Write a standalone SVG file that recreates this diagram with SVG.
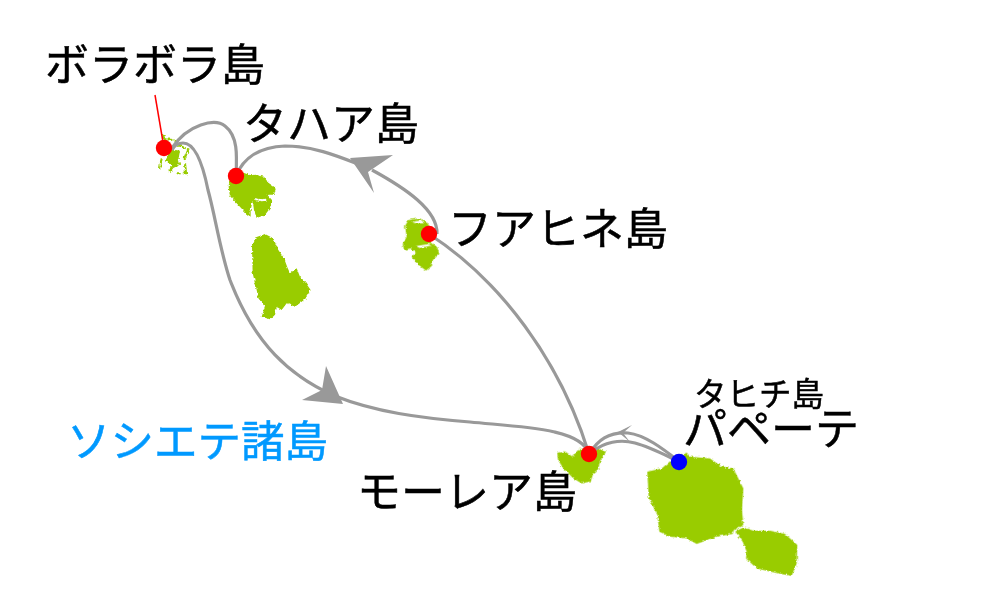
<svg xmlns="http://www.w3.org/2000/svg" width="1000" height="615" viewBox="0 0 1000 615">
<defs>
<filter id="rough" x="-10%" y="-10%" width="120%" height="120%">
<feTurbulence type="fractalNoise" baseFrequency="0.35" numOctaves="2" seed="4"/>
<feDisplacementMap in="SourceGraphic" scale="3.5" xChannelSelector="R" yChannelSelector="G"/>
</filter>
</defs>
<style>
text{font-family:"Noto Sans CJK JP","Noto Sans",sans-serif;font-size:44px;fill:#000;stroke:#000;stroke-width:.5}
.land{fill:#99cc00;stroke:none}
.route{fill:none;stroke:#999;stroke-width:3.2}
.head{fill:#999;stroke:none}
.stop{fill:#f00}
</style>
<rect width="1000" height="615" fill="#fff"/>
<g id="islands" filter="url(#rough)">
<g id="island-borabora" transform="translate(130 90) scale(.3333)">
<path class="land" d="M112 192L125 178L150 182L146 205L150 224L130 234L118 250L115 238L128 226L108 214Z"/>
<path fill="none" stroke="#99cc00" stroke-width="6" stroke-dasharray="40 6" d="M98 135L105 148L132 150L150 168L175 178L164 205L168 250L140 250"/>
<path fill="none" stroke="#99cc00" stroke-width="6" d="M95 205L90 235"/>
</g>
<g id="island-tahaa" transform="translate(130 90) scale(.3333)">
<path class="land" d="M296 290L300 265L340 248L362 256L378 254L402 260L415 278L438 294L432 314L412 314L428 332L420 355L405 375L380 384L372 360L368 332L362 360L362 380L350 372L322 342L300 318Z"/>
<path fill="#fff" d="M372 324L395 328L408 326L410 332L395 334L374 330Z"/>
</g>
<g id="island-raiatea" transform="translate(130 90) scale(.3333)">
<path class="land" d="M366 470L378 442L405 432L430 445L445 480L462 505L472 532L480 550L500 535L510 560L525 575L542 600L525 628L495 650L470 640L455 660L440 650L435 675L420 688L395 680L405 650L385 625L378 590L368 550Z"/>
</g>
<g id="island-huahine" transform="translate(340 140) scale(.3333)">
<path class="land" d="M195 258L205 240L238 235L258 243L268 258L262 280L272 305L292 322L298 342L280 358L275 378L258 392L232 372L215 350L228 338L212 325L192 330L188 312L200 290Z"/>
<path fill="#fff" d="M216 246L245 240L252 250L228 250Z"/>
<path fill="#fff" d="M228 318L265 312L275 316L240 324Z"/>
</g>
<g id="island-moorea" transform="translate(530 410) scale(.3333)">
<path class="land" d="M82 128L105 124L128 140L145 118L195 110L228 126L212 150L204 178L190 190L182 214L155 220L130 205L100 175L84 150Z"/>
</g>
<g id="island-tahiti" transform="translate(530 410) scale(.3333)">
<path class="land" d="M352 185L395 175L425 150L470 128L480 140L540 145L575 170L610 175L640 235L636 300L640 345L612 360L608 372L560 380L500 402L470 385L420 380L388 365L382 315L356 262Z"/>
<path class="land" d="M616 364L640 352L670 362L720 362L765 372L802 405L800 460L785 498L745 490L680 475L648 445L650 425L638 395Z"/>
</g>
</g>
<g id="connectors">
<path fill="none" stroke="#f00" stroke-width="1.5" d="M155 95L164 148"/>
<path class="route" d="M172 148C188 124 215 118 225 126C238 136 237 155 236 176"/>
<path class="route" d="M236 176C244 156 262 147 285 146C312 146 335 155 358 164"/>
<path class="route" d="M372 170C405 188 438 210 437 234"/>
<path class="route" d="M429 234C500 280 560 360 589 454"/>
<path class="route" d="M589 454C582 428 520 427 470 422C420 418 375 412 335 396C290 376 255 345 230 280C220 250 215 215 208 190C203 165 195 143 183 143C178 143 174 146 172 150"/>
<path class="route" d="M589 454C598 440 608 432 628 433C645 435 662 448 680 462"/>
<path class="route" d="M592 452C604 442 620 439 635 443C650 447 665 455 680 462"/>
<path class="head" d="M393 155L350 158L374 193L368 172Z"/>
<path class="head" d="M326 366L343 404L302 400L322 390Z"/>
<path class="head" d="M632 425L618 432L630 442L623 433Z"/>
</g>
<g id="stops">
<circle id="stop-borabora" class="stop" cx="164" cy="148" r="8.2"/>
<circle id="stop-tahaa" class="stop" cx="236" cy="176" r="8.2"/>
<circle id="stop-huahine" class="stop" cx="429" cy="234" r="8.2"/>
<circle id="stop-moorea" class="stop" cx="589" cy="454" r="8.2"/>
<circle id="stop-papeete" cx="679" cy="462" r="8.2" fill="#00f"/>
</g>
<g id="labels">
<text x="45" y="81">ボラボラ島</text>
<text x="243" y="140">タハア島</text>
<text x="448" y="245">フアヒネ島</text>
<text x="357" y="508">モーレア島</text>
<text x="67" y="457" style="font-size:43.5px;fill:#0099ff;stroke:#0099ff">ソシエテ諸島</text>
<text x="694" y="406" style="font-size:32.5px">タヒチ島</text>
<text x="683" y="445">パペーテ</text>
</g>
</svg>
